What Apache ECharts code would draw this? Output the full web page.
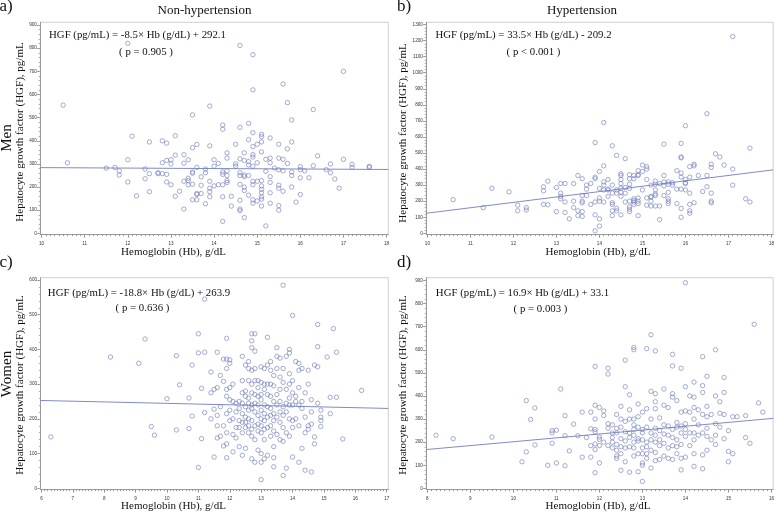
<!DOCTYPE html>
<html><head><meta charset="utf-8">
<script src="https://cdn.jsdelivr.net/npm/echarts@6/dist/echarts.min.js"></script>
<style>html,body{margin:0;padding:0;background:#fff}#c{width:777px;height:514px}</style>
</head><body><div id="c"></div>
<script>
// ---- data: [Hb g/dL, HGF pg/mL] ----
const menNonHT = [[10.5,554],[10.6,305],[11.5,282],[11.7,285],[11.8,270],[11.8,252],[12.0,821],[12.1,420],[12.0,318],[12.0,222],[12.2,162],[12.4,278],[12.4,236],[12.5,395],[12.5,258],[12.5,180],[12.7,262],[12.7,258],[12.8,400],[12.8,305],[12.8,258],[12.9,390],[12.9,315],[12.9,255],[12.9,222],[13.0,318],[13.0,300],[13.0,210],[13.1,422],[13.1,338],[13.1,160],[13.2,182],[13.3,340],[13.3,303],[13.3,225],[13.3,105],[13.4,318],[13.4,238],[13.4,228],[13.4,210],[13.5,512],[13.5,370],[13.5,265],[13.5,260],[13.5,212],[13.5,145],[13.6,384],[13.6,285],[13.6,172],[13.6,168],[13.6,145],[13.7,244],[13.7,208],[13.7,172],[13.8,278],[13.8,262],[13.8,128],[13.9,550],[13.9,378],[13.9,225],[13.9,195],[13.9,180],[13.9,158],[14.0,318],[14.0,290],[14.0,205],[14.1,302],[14.1,210],[14.2,468],[14.2,450],[14.2,265],[14.2,255],[14.2,210],[14.2,158],[14.2,52],[14.3,348],[14.3,325],[14.3,270],[14.3,250],[14.3,228],[14.3,220],[14.4,160],[14.4,118],[14.5,385],[14.5,300],[14.5,290],[14.6,812],[14.6,458],[14.6,322],[14.6,262],[14.6,250],[14.6,212],[14.6,143],[14.6,105],[14.6,98],[14.7,348],[14.7,315],[14.7,252],[14.7,245],[14.7,200],[14.7,185],[14.7,68],[14.8,475],[14.8,405],[14.8,310],[14.8,295],[14.8,250],[14.8,165],[14.9,772],[14.9,620],[14.9,435],[14.9,375],[14.9,340],[14.9,330],[14.9,290],[14.9,225],[14.9,210],[14.9,145],[14.9,130],[15.0,385],[15.0,305],[15.0,225],[15.0,140],[15.1,428],[15.1,418],[15.1,395],[15.1,352],[15.1,228],[15.1,205],[15.1,190],[15.1,175],[15.1,158],[15.1,148],[15.1,118],[15.2,320],[15.2,268],[15.2,32],[15.3,412],[15.3,325],[15.3,305],[15.3,245],[15.3,220],[15.3,175],[15.3,130],[15.4,282],[15.5,385],[15.5,325],[15.5,275],[15.5,208],[15.5,195],[15.5,120],[15.5,100],[15.6,645],[15.6,320],[15.6,270],[15.6,182],[15.7,565],[15.7,365],[15.7,302],[15.8,490],[15.8,395],[15.8,265],[15.8,250],[15.8,200],[15.9,135],[16.0,288],[16.0,275],[16.0,240],[16.0,168],[16.1,270],[16.2,240],[16.3,535],[16.3,292],[16.4,335],[16.6,275],[16.7,300],[16.7,262],[16.8,235],[16.9,195],[17.0,700],[17.0,320],[17.2,298],[17.2,285],[17.6,290],[17.6,285]];
const menHT = [[10.6,210],[11.3,160],[11.5,280],[11.9,258],[12.1,175],[12.1,140],[12.3,160],[12.3,145],[12.7,290],[12.7,265],[12.7,180],[12.8,325],[12.8,178],[13.0,285],[13.0,135],[13.1,310],[13.1,250],[13.1,230],[13.1,215],[13.2,310],[13.2,195],[13.2,130],[13.3,90],[13.4,310],[13.4,200],[13.4,160],[13.5,360],[13.5,140],[13.5,110],[13.6,340],[13.6,235],[13.6,200],[13.6,190],[13.6,135],[13.6,105],[13.7,300],[13.7,275],[13.7,235],[13.8,310],[13.8,180],[13.9,565],[13.9,350],[13.9,340],[13.9,195],[13.9,115],[13.9,15],[14.0,385],[14.0,280],[14.0,220],[14.0,200],[14.0,90],[14.0,45],[14.1,690],[14.1,420],[14.1,320],[14.1,300],[14.1,270],[14.1,195],[14.2,335],[14.2,275],[14.2,270],[14.2,230],[14.3,545],[14.3,300],[14.3,250],[14.3,190],[14.3,180],[14.3,140],[14.3,110],[14.4,485],[14.4,270],[14.4,250],[14.4,155],[14.4,140],[14.5,370],[14.5,360],[14.5,335],[14.5,310],[14.5,280],[14.5,255],[14.5,230],[14.5,115],[14.6,465],[14.6,285],[14.6,250],[14.6,195],[14.7,365],[14.7,340],[14.7,305],[14.7,280],[14.7,200],[14.7,165],[14.7,150],[14.7,135],[14.8,360],[14.8,340],[14.8,215],[14.8,205],[14.8,195],[14.8,180],[14.9,390],[14.9,365],[14.9,360],[14.9,220],[14.9,200],[14.9,185],[14.9,110],[15.0,425],[15.0,385],[15.0,270],[15.1,415],[15.1,400],[15.1,335],[15.1,220],[15.1,175],[15.2,300],[15.2,230],[15.2,225],[15.2,200],[15.2,170],[15.3,325],[15.3,305],[15.3,270],[15.3,245],[15.3,235],[15.3,170],[15.4,310],[15.4,170],[15.4,85],[15.5,555],[15.5,360],[15.5,320],[15.5,295],[15.5,235],[15.6,320],[15.6,305],[15.6,255],[15.6,215],[15.6,200],[15.6,185],[15.7,315],[15.7,300],[15.8,390],[15.8,275],[15.8,185],[15.9,560],[15.9,475],[15.9,470],[15.9,375],[15.9,350],[15.9,275],[15.9,155],[15.9,100],[16.0,670],[16.0,335],[16.0,315],[16.0,310],[16.0,270],[16.1,415],[16.1,350],[16.1,250],[16.1,180],[16.1,140],[16.1,125],[16.2,430],[16.2,420],[16.2,190],[16.3,360],[16.4,260],[16.5,745],[16.5,360],[16.5,290],[16.6,430],[16.6,410],[16.6,250],[16.6,200],[16.6,190],[16.7,495],[16.8,475],[16.9,425],[17.1,1225],[17.1,400],[17.1,300],[17.4,215],[17.5,530],[17.5,195]];
const womenNonHT = [[6.3,148],[8.2,378],[9.1,360],[9.3,430],[9.5,178],[9.6,153],[10.0,258],[10.3,382],[10.3,168],[10.4,298],[10.7,260],[10.7,172],[10.8,355],[10.8,208],[11.0,445],[11.0,390],[11.0,60],[11.1,288],[11.1,143],[11.2,545],[11.2,392],[11.2,218],[11.4,335],[11.4,275],[11.4,200],[11.5,285],[11.5,228],[11.5,90],[11.6,392],[11.6,290],[11.6,210],[11.6,180],[11.6,145],[11.7,325],[11.7,235],[11.7,150],[11.8,372],[11.8,308],[11.8,180],[11.8,122],[11.9,432],[11.9,372],[11.9,345],[11.9,285],[11.9,265],[11.9,215],[11.9,160],[11.9,88],[11.9,128],[12.0,370],[12.0,360],[12.0,290],[12.0,255],[12.0,225],[12.0,195],[12.1,300],[12.1,250],[12.1,200],[12.1,155],[12.1,105],[12.2,245],[12.2,220],[12.2,175],[12.2,145],[12.3,250],[12.3,230],[12.3,195],[12.3,175],[12.3,120],[12.4,380],[12.4,310],[12.4,275],[12.4,245],[12.4,215],[12.4,190],[12.4,160],[12.4,95],[12.5,355],[12.5,280],[12.5,265],[12.5,235],[12.5,205],[12.5,190],[12.5,175],[12.5,115],[12.6,365],[12.6,345],[12.6,310],[12.6,260],[12.6,245],[12.6,225],[12.6,200],[12.6,180],[12.6,160],[12.7,445],[12.7,425],[12.7,405],[12.7,340],[12.7,300],[12.7,275],[12.7,240],[12.7,230],[12.7,195],[12.7,170],[12.7,150],[12.7,85],[12.8,445],[12.8,395],[12.8,345],[12.8,310],[12.8,270],[12.8,245],[12.8,220],[12.8,180],[12.8,140],[12.8,75],[12.9,310],[12.9,290],[12.9,265],[12.9,240],[12.9,210],[12.9,185],[12.9,165],[12.9,110],[13.0,350],[13.0,305],[13.0,270],[13.0,255],[13.0,225],[13.0,200],[13.0,180],[13.0,160],[13.0,100],[13.0,75],[13.0,25],[13.1,345],[13.1,300],[13.1,285],[13.1,240],[13.1,215],[13.1,195],[13.1,170],[13.1,140],[13.1,85],[13.2,435],[13.2,355],[13.2,300],[13.2,270],[13.2,235],[13.2,205],[13.2,175],[13.2,95],[13.3,365],[13.3,340],[13.3,300],[13.3,265],[13.3,230],[13.3,210],[13.3,180],[13.3,150],[13.4,325],[13.4,295],[13.4,250],[13.4,215],[13.4,195],[13.4,165],[13.4,120],[13.4,88],[13.4,62],[13.5,405],[13.5,380],[13.5,345],[13.5,270],[13.5,240],[13.5,205],[13.5,155],[13.6,375],[13.6,320],[13.6,285],[13.6,250],[13.6,220],[13.6,190],[13.6,140],[13.7,585],[13.7,345],[13.7,305],[13.7,235],[13.7,210],[13.7,175],[13.7,135],[13.7,37],[13.8,380],[13.8,285],[13.8,245],[13.8,220],[13.8,160],[13.8,58],[13.9,400],[13.9,390],[13.9,330],[13.9,300],[13.9,260],[13.9,240],[13.9,200],[13.9,150],[14.0,498],[14.0,310],[14.0,275],[14.0,240],[14.0,195],[14.0,175],[14.0,90],[14.1,365],[14.1,265],[14.1,250],[14.1,200],[14.2,360],[14.2,340],[14.2,290],[14.2,240],[14.2,180],[14.2,75],[14.3,345],[14.3,250],[14.3,230],[14.3,115],[14.4,275],[14.4,205],[14.4,160],[14.4,52],[14.5,340],[14.5,300],[14.5,180],[14.5,170],[14.6,255],[14.6,220],[14.6,185],[14.6,47],[14.7,355],[14.7,148],[14.7,128],[14.8,472],[14.8,408],[14.8,350],[14.8,245],[14.9,225],[14.9,205],[14.9,195],[14.9,178],[15.1,378],[15.2,262],[15.2,215],[15.3,460],[15.4,392],[15.4,262],[15.6,142],[16.2,282]];
const womenHT = [[8.2,230],[8.6,215],[9.5,222],[10.2,115],[10.3,380],[10.3,158],[10.4,298],[10.5,348],[10.5,188],[10.8,100],[10.9,250],[10.9,240],[10.9,195],[11.0,252],[11.0,110],[11.1,430],[11.2,315],[11.2,228],[11.2,98],[11.3,162],[11.4,278],[11.5,228],[11.6,330],[11.6,135],[11.7,220],[11.8,330],[11.8,258],[11.8,185],[11.8,135],[11.9,528],[11.9,360],[11.9,300],[11.9,255],[11.9,245],[11.9,192],[11.9,168],[11.9,68],[12.0,350],[12.0,222],[12.0,212],[12.0,185],[12.0,110],[12.1,335],[12.1,315],[12.1,200],[12.2,520],[12.2,495],[12.2,280],[12.2,260],[12.2,185],[12.3,275],[12.3,240],[12.3,220],[12.3,200],[12.3,175],[12.4,320],[12.4,260],[12.4,240],[12.4,190],[12.4,165],[12.4,140],[12.4,130],[12.5,355],[12.5,300],[12.5,265],[12.5,215],[12.5,180],[12.5,150],[12.5,78],[12.6,555],[12.6,440],[12.6,290],[12.6,245],[12.6,205],[12.6,175],[12.6,115],[12.7,405],[12.7,340],[12.7,300],[12.7,240],[12.7,220],[12.7,180],[12.7,70],[12.8,610],[12.8,600],[12.8,300],[12.8,275],[12.8,255],[12.8,230],[12.8,200],[12.8,175],[12.8,140],[12.9,365],[12.9,310],[12.9,265],[12.9,215],[12.9,205],[12.9,150],[12.9,72],[13.0,330],[13.0,255],[13.0,240],[13.0,210],[13.0,175],[13.0,150],[13.0,110],[13.0,100],[13.0,30],[13.1,605],[13.1,345],[13.1,265],[13.1,200],[13.1,180],[13.1,150],[13.1,130],[13.2,665],[13.2,420],[13.2,300],[13.2,240],[13.2,210],[13.2,165],[13.2,88],[13.3,595],[13.3,410],[13.3,375],[13.3,345],[13.3,260],[13.3,230],[13.3,200],[13.3,155],[13.3,120],[13.4,305],[13.4,250],[13.4,210],[13.4,185],[13.4,125],[13.5,430],[13.5,360],[13.5,275],[13.5,235],[13.5,195],[13.5,140],[13.6,350],[13.6,270],[13.6,230],[13.6,175],[13.6,130],[13.7,580],[13.7,530],[13.7,410],[13.7,395],[13.7,255],[13.7,220],[13.7,185],[13.7,125],[13.8,380],[13.8,285],[13.8,265],[13.8,210],[13.8,180],[13.8,150],[13.9,520],[13.9,330],[13.9,270],[13.9,240],[13.9,190],[13.9,130],[13.9,80],[14.0,890],[14.0,440],[14.0,335],[14.0,280],[14.0,255],[14.0,225],[14.0,135],[14.1,400],[14.1,330],[14.1,240],[14.1,185],[14.2,460],[14.2,395],[14.2,350],[14.2,300],[14.2,240],[14.2,210],[14.2,150],[14.2,95],[14.3,340],[14.3,275],[14.3,230],[14.4,570],[14.4,445],[14.4,415],[14.4,320],[14.4,240],[14.4,145],[14.4,85],[14.5,485],[14.5,355],[14.5,310],[14.5,260],[14.5,225],[14.5,165],[14.6,320],[14.6,210],[14.7,600],[14.7,400],[14.7,280],[14.7,230],[14.7,190],[14.8,375],[14.8,325],[14.8,265],[14.9,480],[14.9,415],[14.9,320],[14.9,215],[15.0,250],[15.0,160],[15.0,115],[15.1,310],[15.1,150],[15.2,310],[15.4,315],[15.4,220],[15.5,195],[15.6,710],[15.7,370],[15.8,330]];

// fitted lines (endpoints as drawn)
const fitMenNonHT = [[9.97,284],[18.04,276]];
const fitMenHT = [[9.98,125],[18.04,395]];
const fitWomenNonHT = [[5.97,253],[17.05,230]];
const fitWomenHT = [[7.98,168],[16.04,303]];

// tick labels
const xTicksMen = [10,11,12,13,14,15,16,17,18];
const xTicksWomenNonHT = [6,7,8,9,10,11,12,13,14,15,16,17];
const xTicksWomenHT = [8,9,10,11,12,13,14,15,16];
const yTicks900 = [0,100,200,300,400,500,600,700,800,900];
const yTicks1300 = [0,100,200,300,400,500,600,700,800,900,1000,1100,1200,1300];
const yTicks600 = [0,100,200,300,400,500,600];

const panelTitles = ['Non-hypertension','Hypertension'];
const panelTags = ['a)','b)','c)','d)'];
const rowNames = ['Men','Women'];
const equations = ['HGF (pg/mL) = -8.5\u00d7 Hb (g/dL) + 292.1','HGF (pg/mL) = 33.5\u00d7 Hb (g/dL) - 209.2','HGF (pg/mL) = -18.8\u00d7 Hb (g/dL) + 263.9','HGF (pg/mL) = 16.9\u00d7 Hb (g/dL) + 33.1'];
const pTexts = ['( p = 0.905 )','( p < 0.001 )','( p = 0.636 )','( p = 0.003 )'];
const yName = 'Hepatocyte growth factor (HGF), pg/mL';
const xName = 'Hemoglobin (Hb), g/dL';

function minorVals(a, b, step){ const r=[]; const n=Math.round((b-a)/step); for(let i=0;i<=n;i++){ r.push(+(a+i*step).toFixed(4)); } return r; }
const plain = v => String(v);

const panels = [
  {grid:{left:40.3, top:22.3, width:348, height:212.2}, xmin:9.97, xmax:18.04, ymin:-5, ymax:912, xt:xTicksMen, yt:yTicks900, ystep:20, data:menNonHT, fit:fitMenNonHT},
  {grid:{left:426.3, top:22.3, width:348.4, height:212.2}, xmin:9.975, xmax:18.04, ymin:-7.5, ymax:1314, xt:xTicksMen, yt:yTicks1300, ystep:20, data:menHT, fit:fitMenHT},
  {grid:{left:40.5, top:277.7, width:347.8, height:211.8}, xmin:5.97, xmax:17.05, ymin:-3.5, ymax:606.6, xt:xTicksWomenNonHT, yt:yTicks600, ystep:20, data:womenNonHT, fit:fitWomenNonHT},
  {grid:{left:426.3, top:277.7, width:348.4, height:211.8}, xmin:7.975, xmax:16.04, ymin:-5, ymax:912, xt:xTicksWomenHT, yt:yTicks900, ystep:20, data:womenHT, fit:fitWomenHT}
];

const grids=[], xAxes=[], yAxes=[], series=[];
const axColor='#9a9a9a';
panels.forEach((p,i)=>{
  grids.push(Object.assign({show:true, borderColor:'#cfcfcf', borderWidth:1, containLabel:false}, p.grid));
  const xmin0 = p.xt[0], xmax0 = p.xt[p.xt.length-1];
  xAxes.push({type:'value', gridIndex:i, position:'bottom', min:p.xmin, max:p.xmax,
    axisLine:{show:true, onZero:false, lineStyle:{color:axColor, width:1}},
    axisTick:{show:true, length:3, customValues:p.xt, lineStyle:{color:'#888'}},
    axisLabel:{show:true, customValues:p.xt, formatter:plain, fontSize:4.6, color:'#333', margin:6.5, fontFamily:'Liberation Sans'},
    splitLine:{show:false}});
  xAxes.push({type:'value', gridIndex:i, position:'bottom', min:p.xmin, max:p.xmax,
    axisLine:{show:false, onZero:false},
    axisTick:{show:true, length:1.6, customValues:minorVals(xmin0,xmax0,0.1), lineStyle:{color:'#999'}},
    axisLabel:{show:false}, splitLine:{show:false}});
  const ymax0 = p.yt[p.yt.length-1];
  yAxes.push({type:'value', gridIndex:i, position:'left', min:p.ymin, max:p.ymax,
    axisLine:{show:true, onZero:false, lineStyle:{color:axColor, width:1}},
    axisTick:{show:true, length:3, customValues:p.yt, lineStyle:{color:'#888'}},
    axisLabel:{show:true, customValues:p.yt, formatter:plain, fontSize:4.6, color:'#333', margin:3.5, fontFamily:'Liberation Sans'},
    splitLine:{show:false}});
  yAxes.push({type:'value', gridIndex:i, position:'left', min:p.ymin, max:p.ymax,
    axisLine:{show:false, onZero:false},
    axisTick:{show:true, length:1.6, customValues:minorVals(0,ymax0,p.ystep), lineStyle:{color:'#aaa'}},
    axisLabel:{show:false}, splitLine:{show:false}});
  series.push({type:'scatter', xAxisIndex:2*i, yAxisIndex:2*i, data:p.data, symbol:'circle', symbolSize:4.4,
    itemStyle:{color:'rgba(255,255,255,0)', borderColor:'#6f7cb9', borderWidth:0.8}, silent:true, z:3});
  series.push({type:'line', xAxisIndex:2*i, yAxisIndex:2*i, data:p.fit, symbol:'none', showSymbol:false,
    lineStyle:{color:'#7e8bc6', width:1}, silent:true, z:2});
});

const serif = '"Liberation Serif","Times New Roman",serif';
function txt(x,y,t,size,opt){ return Object.assign({type:'text', x:x, y:y, style:{text:t, fontSize:size, fontFamily:serif, fill:'#111', textAlign:'center', textVerticalAlign:'middle'}}, opt||{}); }
function vtxt(x,y,t,size){ return {type:'text', x:x, y:y, rotation:Math.PI/2, style:{text:t, fontSize:size, fontFamily:serif, fill:'#111', textAlign:'center', textVerticalAlign:'middle'}}; }

const graphics = [
  txt(6,7,panelTags[0],17), txt(404,7,panelTags[1],17), txt(6,263,panelTags[2],17), txt(404,263,panelTags[3],17),
  txt(204.5,11,panelTitles[0],13), txt(582,11,panelTitles[1],13),
  vtxt(7,138,rowNames[0],15), vtxt(7,374,rowNames[1],15),
  vtxt(20.5,132,yName,11), vtxt(403,133,yName,11), vtxt(20.5,385,yName,11), vtxt(403,385,yName,11),
  txt(173.5,252,xName,11), txt(598,252,xName,11), txt(173.5,506,xName,11), txt(598,506,xName,11),
  txt(137.5,35,equations[0],10.8), txt(523.5,35,equations[1],10.8), txt(139,293,equations[2],10.8), txt(522.5,293,equations[3],10.8),
  txt(146,52,pTexts[0],10.8), txt(533.5,52,pTexts[1],10.8), txt(142.5,308,pTexts[2],10.8), txt(540.5,309,pTexts[3],10.8)
];

const chart = echarts.init(document.getElementById('c'), null, {renderer:'canvas'});
chart.setOption({animation:false, backgroundColor:'#fff', grid:grids, xAxis:xAxes, yAxis:yAxes, series:series, graphic:graphics});
</script></body></html>
